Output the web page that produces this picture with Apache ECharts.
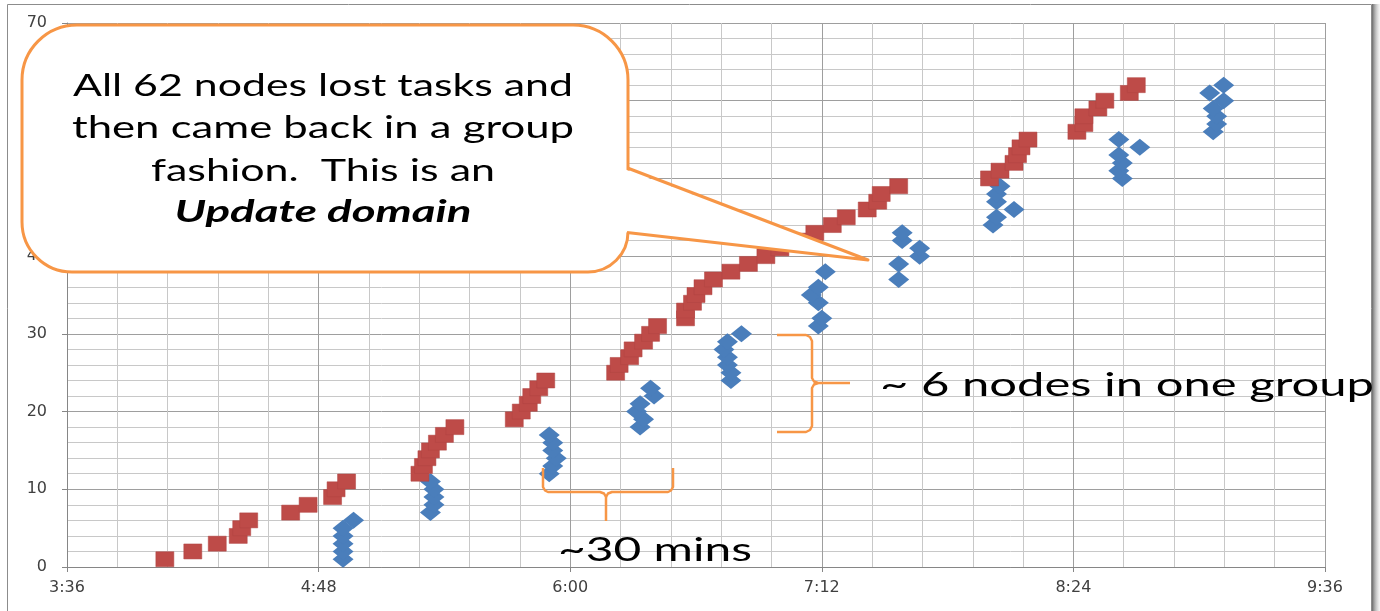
<!DOCTYPE html>
<html>
<head>
<meta charset="utf-8">
<script src="https://cdn.jsdelivr.net/npm/echarts@6/dist/echarts.min.js"></script>
<style>
  html, body { margin: 0; padding: 0; background: #ffffff; }
  #chart { width: 1380px; height: 611px; }
</style>
</head>
<body>
<div id="chart"></div>
<script>
// ---- data ----
const xTickLabels = ['3:36', '4:48', '6:00', '7:12', '8:24', '9:36'];
const yTickLabels = [0, 10, 20, 30, 40, 50, 60, 70];

// red squares: time (h:mm) and node count
const redTimes = ['4:04','4:12','4:19','4:25','4:26','4:28','4:40','4:45','4:52','4:53','4:56',
  '5:17','5:18','5:19','5:20','5:22','5:24','5:27',
  '5:44','5:46','5:48','5:49','5:51','5:53',
  '6:13','6:14','6:17','6:18','6:21','6:23','6:25',
  '6:33','6:33','6:35','6:36','6:38','6:41','6:46','6:51','6:56','7:00','7:05','7:10','7:15','7:19','7:25','7:28','7:29','7:34',
  '8:00','8:03','8:07','8:08','8:09','8:11',
  '8:25','8:27','8:27','8:31','8:33','8:40','8:42'];
const redNodes = [1,2,3,4,5,6,7,8,9,10,11,
  12,13,14,15,16,17,18,
  19,20,21,22,23,24,
  25,26,27,28,29,30,31,
  32,33,34,35,36,37,38,39,40,41,42,43,44,45,46,47,48,49,
  50,51,52,53,54,55,
  56,57,58,59,60,61,62];

// blue diamonds: time (h:mm) and node count
const blueTimes = ['4:55','4:55','4:55','4:55','4:55','4:58',
  '5:20','5:21','5:21','5:21','5:20',
  '5:54','5:55','5:56','5:55','5:55','5:54',
  '6:20','6:21','6:19','6:20','6:24','6:23',
  '6:46','6:46','6:45','6:45','6:44','6:45','6:49',
  '7:11','7:12','7:11','7:09','7:11','7:13',
  '7:34','7:34','7:40','7:40','7:35','7:35',
  '8:01','8:02','8:07','8:02','8:02','8:03',
  '8:38','8:37','8:38','8:37','8:43','8:37',
  '9:04','9:05','9:05','9:04','9:07','9:03','9:07'];
const blueNodes = [1,2,3,4,5,6,
  7,8,9,10,11,
  12,13,14,15,16,17,
  18,19,20,21,22,23,
  24,25,26,27,28,29,30,
  31,32,34,35,36,38,
  37,39,40,41,42,43,
  44,45,46,47,48,49,
  50,51,52,53,54,55,
  56,57,58,59,60,61,62];

const calloutLines = ['All 62 nodes lost tasks and', 'then came back in a group', 'fashion.  This is an', 'Update domain'];
const spanLabel = '~30 mins';
const groupLabel = '~ 6 nodes in one group';

// ---- helpers ----
function toMin(s) { const p = s.split(':').map(Number); return p[0] * 60 + p[1]; }
function fmt(v) { const h = Math.floor(v / 60), m = Math.round(v - h * 60); return h + ':' + String(m).padStart(2, '0'); }
const xMin = toMin(xTickLabels[0]), xMax = toMin(xTickLabels[xTickLabels.length - 1]);
const xStep = toMin(xTickLabels[1]) - xMin;

const redData = redTimes.map((t, i) => [toMin(t), redNodes[i]]);
const blueData = blueTimes.map((t, i) => [toMin(t), blueNodes[i]]);

const mctx = document.createElement('canvas').getContext('2d');
function fitScale(text, font, target) { mctx.font = font; return target / mctx.measureText(text).width; }

const ORANGE = '#F79646';
const calloutFont = '30px Lato';
const calloutFontBI = 'italic bold 30px Lato';
const lineSpecs = [
  { t: calloutLines[0], f: calloutFont, y: 86, w: 500 },
  { t: calloutLines[1], f: calloutFont, y: 128, w: 502 },
  { t: calloutLines[2], f: calloutFont, y: 171, w: 344 },
  { t: calloutLines[3], f: calloutFontBI, y: 212, w: 297 }
];

const braceStyle = { fill: 'none', stroke: ORANGE, lineWidth: 2.5, lineJoin: 'round' };
const graphics = [
  { type: 'rect', z: 0, silent: true, shape: { x: 7.5, y: 4.5, width: 1364, height: 610 },
    style: { fill: 'none', stroke: '#8C8C8C', lineWidth: 1 } },
  { type: 'rect', z: 0, silent: true, shape: { x: 1372, y: 4, width: 8, height: 607 },
    style: { fill: new echarts.graphic.LinearGradient(0, 0, 1, 0, [
      { offset: 0, color: 'rgba(90,90,90,0.9)' }, { offset: 1, color: 'rgba(200,200,200,0.2)' }]) } },
  // callout box
  { type: 'rect', z: 100, silent: true, shape: { x: 22, y: 25, width: 606, height: 247, r: [55, 55, 40, 50] },
    style: { fill: '#ffffff', stroke: ORANGE, lineWidth: 3 } },
  // pointer (white fill hides the box edge where it joins)
  { type: 'polygon', z: 101, silent: true, shape: { points: [[624, 169], [868, 260], [624, 232]] },
    style: { fill: '#ffffff', stroke: 'none' } },
  { type: 'polyline', z: 102, silent: true, shape: { points: [[627.5, 168], [868, 260], [627, 232.5]] },
    style: { fill: 'none', stroke: ORANGE, lineWidth: 3, lineJoin: 'round' } },
  // horizontal brace
  { type: 'polyline', z: 100, silent: true,
    shape: { points: [[543, 468], [543, 487], [545, 490.5], [548, 492], [600, 492], [604, 493.5], [606, 497], [606, 521]] },
    style: braceStyle },
  { type: 'polyline', z: 100, silent: true,
    shape: { points: [[606, 497], [608, 493.5], [612, 492], [668, 492], [671, 490.5], [673, 487], [673, 468]] },
    style: braceStyle },
  // vertical brace
  { type: 'polyline', z: 100, silent: true,
    shape: { points: [[777, 335], [806, 335], [810, 337], [812, 341], [812, 378], [814, 381.5], [818, 383], [850, 383]] },
    style: braceStyle },
  { type: 'polyline', z: 100, silent: true,
    shape: { points: [[818, 383], [814, 384.5], [812, 388], [812, 426], [810, 430], [806, 432], [777, 432]] },
    style: braceStyle }
];
lineSpecs.forEach(ls => {
  graphics.push({ type: 'text', z: 103, silent: true, x: 323, y: ls.y, scaleX: fitScale(ls.t, ls.f, ls.w),
    style: { text: ls.t, font: ls.f, fill: '#000000', textAlign: 'center', textVerticalAlign: 'middle' } });
});
const annFont = '33px Lato';
graphics.push({ type: 'text', z: 103, silent: true, x: 655, y: 550, scaleX: fitScale(spanLabel, annFont, 194),
  style: { text: spanLabel, font: annFont, fill: '#000000', textAlign: 'center', textVerticalAlign: 'middle' } });
graphics.push({ type: 'text', z: 103, silent: true, x: 880, y: 385, scaleX: fitScale(groupLabel, annFont, 494),
  style: { text: groupLabel, font: annFont, fill: '#000000', textAlign: 'left', textVerticalAlign: 'middle' } });

const chart = echarts.init(document.getElementById('chart'), null, { renderer: 'canvas' });
chart.setOption({
  animation: false,
  backgroundColor: '#ffffff',
  grid: { left: 67, right: 55, top: 23, bottom: 44, containLabel: false },
  xAxis: {
    type: 'value', min: xMin, max: xMax, interval: xStep,
    axisLine: { show: true, lineStyle: { color: '#868686', width: 1 } },
    axisTick: { show: true, inside: false, length: 5, lineStyle: { color: '#868686' } },
    minorTick: { show: false, splitNumber: 5 },
    splitLine: { show: true, lineStyle: { color: '#9E9E9E', width: 1 } },
    minorSplitLine: { show: true, lineStyle: { color: '#C8C8C8', width: 1 } },
    axisLabel: { formatter: v => fmt(v), color: '#404040', fontFamily: 'DejaVu Sans', fontSize: 16, margin: 13 }
  },
  yAxis: {
    type: 'value', min: yTickLabels[0], max: yTickLabels[yTickLabels.length - 1], interval: yTickLabels[1] - yTickLabels[0],
    axisLine: { show: true, lineStyle: { color: '#868686', width: 1 } },
    axisTick: { show: true, inside: false, length: 5, lineStyle: { color: '#868686' } },
    minorTick: { show: false, splitNumber: 5 },
    splitLine: { show: true, lineStyle: { color: '#9E9E9E', width: 1 } },
    minorSplitLine: { show: true, lineStyle: { color: '#C8C8C8', width: 1 } },
    axisLabel: { color: '#404040', fontFamily: 'DejaVu Sans', fontSize: 16, margin: 20 }
  },
  series: [
    { name: 'Back', type: 'scatter', data: blueData, symbol: 'diamond', symbolSize: [21, 17],
      itemStyle: { color: '#4A7EBB', opacity: 1 }, z: 2 },
    { name: 'Lost', type: 'scatter', data: redData, symbol: 'rect', symbolSize: [18, 15],
      itemStyle: { color: '#BE4B48', borderColor: '#B04542', borderWidth: 0.5, opacity: 1 }, z: 3 }
  ],
  graphic: { elements: graphics }
});
</script>
</body>
</html>
